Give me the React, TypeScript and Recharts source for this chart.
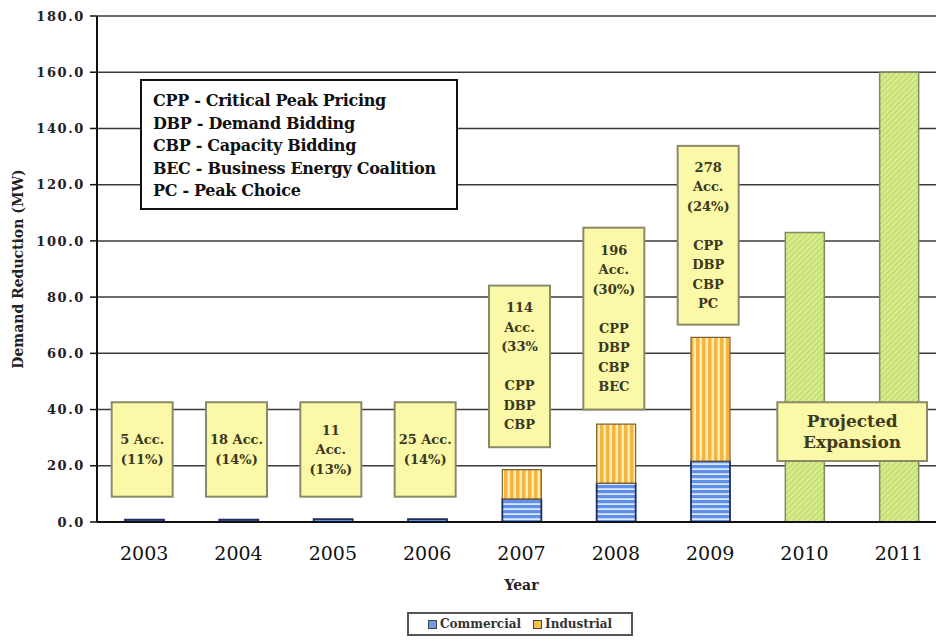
import { Bar, BarChart, CartesianGrid, Legend, ReferenceArea, XAxis, YAxis } from "recharts";

const years = ["2003", "2004", "2005", "2006", "2007", "2008", "2009", "2010", "2011"];
const commercial = [0.8, 0.8, 1.0, 1.0, 8.2, 13.8, 21.7, 0, 0];
const industrial = [0, 0, 0, 0, 10.4, 21.0, 44.0, 0, 0];
const projected = [0, 0, 0, 0, 0, 0, 0, 103, 160];
const yTicks = [0, 20, 40, 60, 80, 100, 120, 140, 160, 180];

// annotation boxes: category span + value range + text lines
const noteYears = [["2003"], ["2004"], ["2005"], ["2006"], ["2007"], ["2008"], ["2009"], ["2010", "2011"]];
const noteLow = [9, 9, 9, 9, 26.6, 40, 70.2, 21.7];
const noteHigh = [42.6, 42.6, 42.6, 42.6, 84.1, 104.7, 133.8, 42.6];
const noteLines = [
  ["5 Acc.", "(11%)"],
  ["18 Acc.", "(14%)"],
  ["11", "Acc.", "(13%)"],
  ["25 Acc.", "(14%)"],
  ["114", "Acc.", "(33%", "", "CPP", "DBP", "CBP"],
  ["196", "Acc.", "(30%)", "", "CPP", "DBP", "CBP", "BEC"],
  ["278", "Acc.", "(24%)", "", "CPP", "DBP", "CBP", "PC"],
  ["Projected", "Expansion"],
];

const programs = [
  "CPP - Critical Peak Pricing",
  "DBP - Demand Bidding",
  "CBP - Capacity Bidding",
  "BEC - Business Energy Coalition",
  "PC - Peak Choice",
];

const data = years.map((year, i) => ({
  year,
  commercial: commercial[i],
  industrial: industrial[i],
  projected: projected[i],
}));

const SERIF = "'DejaVu Serif', serif";

const swatch: Record<string, string> = { commercial: "#6f9be8", industrial: "#f2c24a" };

function NoteBox(props: any) {
  const { x, y, width, height, lines, wide } = props;
  const boxW = wide ? width - 39 : 61;
  const bx = wide ? x + 20 : x + (width - boxW) / 2 - 2;
  const lh = wide ? 21 : 19.5;
  const fs = wide ? 17 : 13;
  const cy = y + height / 2;
  const startY = cy - ((lines.length - 1) * lh) / 2;
  return (
    <g>
      <rect x={bx} y={y} width={boxW} height={height} fill="#fbf8a8" stroke="#8c8a66" strokeWidth={2} />
      {lines.map((t: string, i: number) => (
        <text
          key={i}
          x={bx + boxW / 2}
          y={startY + i * lh}
          dy="0.35em"
          textAnchor="middle"
          fontFamily={SERIF}
          fontWeight="bold"
          fontSize={fs}
          fill={wide ? "#3e3c1c" : "#3a3820"}
        >
          {t}
        </text>
      ))}
    </g>
  );
}

function LegendBox(props: any) {
  const items = (props.payload || []).filter((p: any) => p.dataKey !== "projected");
  return (
    <div
      style={{
        boxSizing: "border-box",
        width: 226,
        height: 24,
        border: "2px solid #555",
        background: "#fff",
        display: "flex",
        alignItems: "center",
        justifyContent: "center",
        gap: 12,
        fontFamily: SERIF,
        fontWeight: "bold",
        fontSize: 12,
        color: "#333",
      }}
    >
      {items.map((p: any) => (
        <span key={p.dataKey} style={{ display: "flex", alignItems: "center", gap: 3 }}>
          <span
            style={{
              display: "inline-block",
              width: 7,
              height: 7,
              background: swatch[p.dataKey],
              border: "1px solid #444",
            }}
          />
          {p.value}
        </span>
      ))}
    </div>
  );
}

export default function App() {
  return (
    <div style={{ position: "fixed", left: 0, top: 0, width: 936, height: 641, overflow: "hidden", background: "#fff" }}>
      <BarChart width={960} height={641} data={data} barSize={39} margin={{ top: 16, right: 14, left: 37, bottom: 5 }}>
        <defs>
          <pattern id="comPat" width="6" height="5" patternUnits="userSpaceOnUse">
            <rect width="6" height="5" fill="#dce8fb" />
            <rect width="6" height="3.2" fill="#5f91ea" />
          </pattern>
          <pattern id="indPat" width="6" height="6" patternUnits="userSpaceOnUse">
            <rect width="6" height="6" fill="#fdeeb0" />
            <rect width="3.5" height="6" fill="#f3b441" />
          </pattern>
          <pattern id="projPat" width="4" height="4" patternUnits="userSpaceOnUse" patternTransform="rotate(45)">
            <rect width="4" height="4" fill="#d6eb8c" />
            <rect width="1" height="4" fill="#bcd56a" />
          </pattern>
        </defs>
        <CartesianGrid vertical={false} stroke="#3a3a3a" strokeWidth={1.5} />
        <XAxis
          dataKey="year"
          height={90}
          axisLine={{ stroke: "#111", strokeWidth: 2 }}
          tickLine={false}
          tickMargin={19}
          tick={{ fill: "#111", fontSize: 19, fontFamily: SERIF }}
          label={(p: any) => (
            <text
              x={p.viewBox.x + p.viewBox.width / 2}
              y={590}
              textAnchor="middle"
              fontFamily={SERIF}
              fontWeight="bold"
              fontSize={14}
              fill="#222"
            >
              Year
            </text>
          )}
        />
        <YAxis
          width={60}
          domain={[0, 180]}
          ticks={yTicks}
          interval={0}
          tickFormatter={(v: number) => v.toFixed(1)}
          axisLine={{ stroke: "#111", strokeWidth: 2 }}
          tickLine={{ stroke: "#111", strokeWidth: 1.5 }}
          tickSize={7}
          tickMargin={5}
          tick={{ fill: "#222", fontSize: 13, fontWeight: "bold", fontFamily: SERIF, letterSpacing: 1.6 }}
          label={(p: any) => {
            const cx = 18;
            const cy = p.viewBox.y + p.viewBox.height / 2;
            return (
              <text
                x={cx}
                y={cy}
                transform={`rotate(-90 ${cx} ${cy})`}
                textAnchor="middle"
                dy="0.35em"
                fontFamily={SERIF}
                fontWeight="bold"
                fontSize={14}
                fill="#222"
              >
                Demand Reduction (MW)
              </text>
            );
          }}
        />
        <Legend
          verticalAlign="bottom"
          align="left"
          content={LegendBox}
          wrapperStyle={{ left: 407, width: 226, bottom: 5 }}
        />
        <Bar dataKey="commercial" name="Commercial" stackId="a" fill="url(#comPat)" stroke="#1f2d5e" strokeWidth={1.8} isAnimationActive={false} />
        <Bar dataKey="industrial" name="Industrial" stackId="a" fill="url(#indPat)" stroke="#7d6233" strokeWidth={1.2} isAnimationActive={false} />
        <Bar dataKey="projected" name="Projected" stackId="a" fill="url(#projPat)" stroke="#7f8a5c" strokeWidth={1.5} legendType="none" isAnimationActive={false} />
        {noteYears.map((span, i) => (
          <ReferenceArea
            key={i}
            x1={span[0]}
            x2={span[span.length - 1]}
            y1={noteLow[i]}
            y2={noteHigh[i]}
            ifOverflow="visible"
            zIndex={1500}
            shape={(p: any) => <NoteBox {...p} lines={noteLines[i]} wide={span.length > 1} />}
          />
        ))}
      </BarChart>
      <div
        style={{
          position: "absolute",
          left: 140,
          top: 79,
          width: 318,
          height: 131,
          boxSizing: "border-box",
          border: "2px solid #111",
          background: "#fff",
          padding: "9px 0 0 11px",
          fontFamily: SERIF,
          fontWeight: "bold",
          fontSize: 16,
          lineHeight: "22.5px",
          letterSpacing: -0.3,
          color: "#111",
        }}
      >
        {programs.map((t) => (
          <div key={t}>{t}</div>
        ))}
      </div>
    </div>
  );
}
